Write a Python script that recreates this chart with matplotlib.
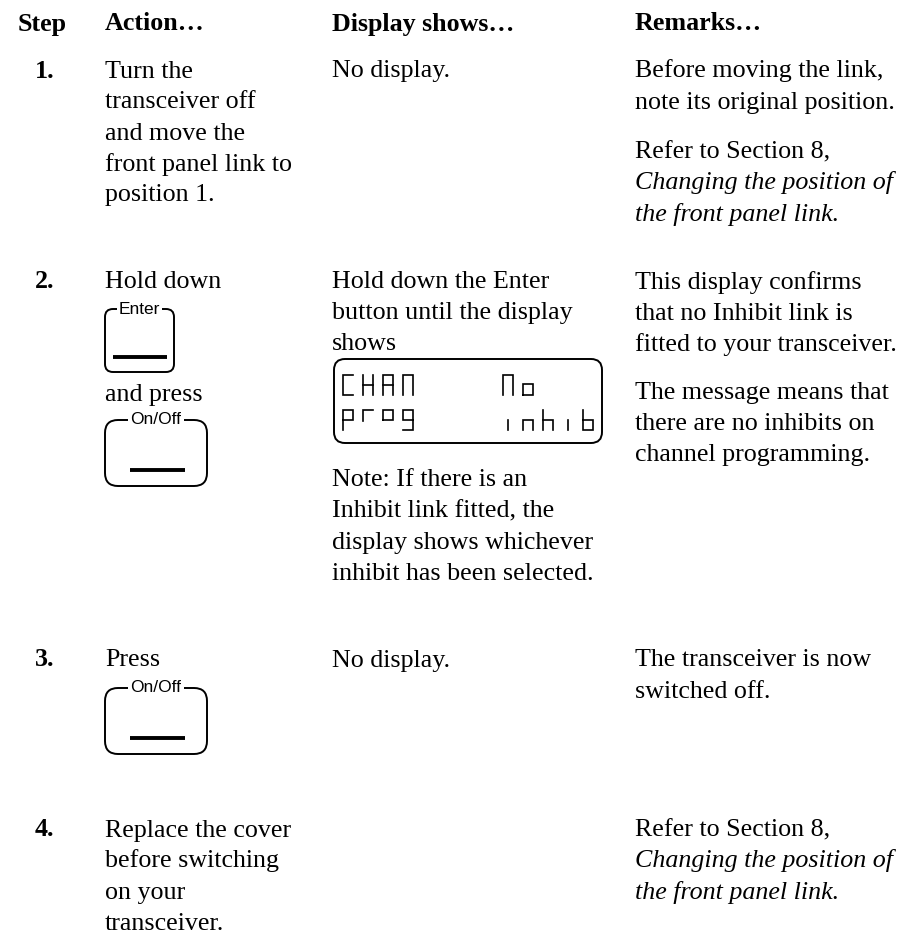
import matplotlib
matplotlib.use("Agg")
import matplotlib.pyplot as plt
from matplotlib.patches import FancyBboxPatch

# ---------------- data ----------------
header = ["Step", "Action\u2026", "Display shows\u2026", "Remarks\u2026"]
step_numbers = ["1.", "2.", "3.", "4."]

action_1 = ["Turn the", "transceiver off", "and move the", "front panel link to", "position 1."]
action_2a = ["Hold down"]
action_2b = ["and press"]
action_3 = ["Press"]
action_4 = ["Replace the cover", "before switching", "on your", "transceiver."]

display_1 = ["No display."]
display_2a = ["Hold down the Enter", "button until the display", "shows"]
display_2b = ["Note: If there is an", "Inhibit link fitted, the", "display shows whichever", "inhibit has been selected."]
display_3 = ["No display."]

remarks_1a = ["Before moving the link,", "note its original position."]
remarks_1b = ["Refer to Section 8,"]
remarks_1c = ["Changing the position of", "the front panel link."]
remarks_2a = ["This display confirms", "that no Inhibit link is", "fitted to your transceiver."]
remarks_2b = ["The message means that", "there are no inhibits on", "channel programming."]
remarks_3 = ["The transceiver is now", "switched off."]
remarks_4a = ["Refer to Section 8,"]
remarks_4b = ["Changing the position of", "the front panel link."]

button_labels = ["Enter", "On/Off"]
lcd_rows = ["CHAN    No", "prog    inhib"]

# ---------------- layout ----------------
W, H = 905, 933
fig = plt.figure(figsize=(W / 100, H / 100), dpi=100)
ax = fig.add_axes([0, 0, 1, 1])
ax.set_xlim(0, W)
ax.set_ylim(H, 0)
ax.axis("off")

SERIF = "Liberation Serif"
SANS = "Liberation Sans"
FS = 18.7
LS = 31.0
BASE = 8.5  # baseline offset below visual centre

X_STEP, X_NUM, X_ACT, X_DISP, X_REM = 18, 35, 105, 332, 635


def lines(x, y0, txts, style="normal", weight="normal"):
    for i, t in enumerate(txts):
        ax.text(x, y0 + i * LS + BASE, t, family=SERIF, fontsize=FS,
                style=style, weight=weight, ha="left", va="baseline")


# header
for x, t in zip([X_STEP, X_ACT, X_DISP, X_REM], header):
    ax.text(x, 22 + BASE, t, family=SERIF, fontsize=FS, weight="bold",
            ha="left", va="baseline")

# step numbers
for y, s in zip([69, 280, 658, 828], step_numbers):
    ax.text(X_NUM, y + BASE, s, family=SERIF, fontsize=FS, weight="bold",
            ha="left", va="baseline")

# step 1
lines(X_ACT, 69, action_1)
lines(X_DISP, 69, display_1)
lines(X_REM, 69, remarks_1a)
lines(X_REM, 150, remarks_1b)
lines(X_REM, 181, remarks_1c, style="italic")

# step 2
lines(X_ACT, 280, action_2a)
lines(X_ACT, 392, action_2b)
lines(X_DISP, 280, display_2a)
lines(X_DISP, 478, display_2b)
lines(X_REM, 280, remarks_2a)
lines(X_REM, 390, remarks_2b)

# step 3
lines(X_ACT, 658, action_3)
lines(X_DISP, 658, display_3)
lines(X_REM, 658, remarks_3)

# step 4
lines(X_ACT, 828, action_4)
lines(X_REM, 828, remarks_4a)
lines(X_REM, 859, remarks_4b, style="italic")


def button(x0, y_top, w, h, label, bar, radius):
    box = FancyBboxPatch((x0, y_top), w, h,
                         boxstyle=f"round,pad=0,rounding_size={radius}",
                         facecolor="white", edgecolor="black", linewidth=1.4)
    ax.add_patch(box)
    ax.text(x0 + w / 2, y_top, label, family=SANS, fontsize=12.5,
            ha="center", va="center",
            bbox=dict(facecolor="white", edgecolor="none", pad=1.5))
    bx0, bx1, by = bar
    ax.plot([bx0, bx1], [by, by], color="black", linewidth=2.8,
            solid_capstyle="butt")


# Enter button (step 2)
button(105, 309, 69, 63, button_labels[0], (113, 167, 357), 8)
# On/Off button (step 2)
button(105, 420, 102, 66, button_labels[1], (130, 185, 470), 13)
# On/Off button (step 3)
button(105, 688, 102, 66, button_labels[1], (130, 185, 738), 13)

# LCD display
lcd = FancyBboxPatch((334, 359), 268, 84,
                     boxstyle="round,pad=0,rounding_size=11",
                     facecolor="white", edgecolor="black", linewidth=1.4)
ax.add_patch(lcd)

# segment-style glyphs in a unit cell (x right, y up)
GLYPHS = {
    "C": [[(1, 1), (0, 1), (0, 0), (1, 0)]],
    "H": [[(0, 0), (0, 1)], [(1, 0), (1, 1)], [(0, 0.5), (1, 0.5)]],
    "A": [[(0, 0), (0, 1), (1, 1), (1, 0)], [(0, 0.5), (1, 0.5)]],
    "N": [[(0, 0), (0, 1), (1, 1), (1, 0)]],
    "o": [[(0, 0), (0, 0.55), (1, 0.55), (1, 0), (0, 0)]],
    "p": [[(0, 0), (0, 1), (1, 1), (1, 0.5), (0, 0.5)]],
    "r": [[(0, 0.45), (0, 1), (1, 1)]],
    "q": [[(0, 0.5), (0, 1), (1, 1), (1, 0.5), (0, 0.5)]],
    "g": [[(1, 0.5), (0, 0.5), (0, 1), (1, 1), (1, 0), (0, 0)]],
    "i": [[(0.5, 0), (0.5, 0.5)]],
    "n": [[(0, 0), (0, 0.5), (1, 0.5), (1, 0)]],
    "h": [[(0, 1), (0, 0)], [(0, 0.5), (1, 0.5), (1, 0)]],
    "b": [[(0, 1), (0, 0), (1, 0), (1, 0.5), (0, 0.5)]],
}
LCD_X0, PITCH, GW, GH = 343, 20, 10, 20
row_bottoms = [395, 430]
for r, (row, yb) in enumerate(zip(lcd_rows, row_bottoms)):
    for i, ch in enumerate(row):
        key = ch
        if r == 1 and ch == "o":
            key = "q"  # upper-half 'o' on the second line
        if key == " " or key not in GLYPHS:
            continue
        gx = LCD_X0 + i * PITCH
        for stroke in GLYPHS[key]:
            xs = [gx + px * GW for px, py in stroke]
            ys = [yb - py * GH for px, py in stroke]
            ax.plot(xs, ys, color="black", linewidth=1.2,
                    solid_capstyle="projecting", solid_joinstyle="miter")

fig.savefig("out.png", dpi=100, facecolor="white")
